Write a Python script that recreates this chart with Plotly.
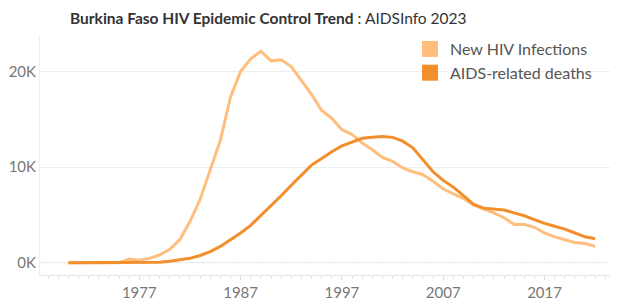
import plotly.graph_objects as go

years = list(range(1970, 2023))
new_infections = [0, 0, 0, 0, 0, 0, 380, 250, 450, 800, 1400, 2400, 4300, 6600, 9700,
                  12800, 17300, 20000, 21300, 22100, 21100, 21200, 20500, 19000, 17600,
                  15900, 15100, 13900, 13400, 12500, 11800, 11000, 10600, 9900, 9500,
                  9200, 8500, 7700, 7200, 6700, 6000, 5600, 5200, 4700, 4000,
                  4000, 3700, 3100, 2700, 2400, 2100, 2000, 1700]
aids_deaths = [0, 0, 0, 0, 0, 0, 0, 0, 0, 50, 150, 300, 450, 750, 1150,
               1700, 2400, 3100, 3900, 4900, 6000, 7000, 8100, 9200, 10200,
               10900, 11600, 12200, 12600, 13000, 13100, 13200, 13100, 12700, 12000,
               10800, 9500, 8600, 7900, 7000, 6100, 5700, 5600, 5500, 5200,
               4900, 4500, 4100, 3800, 3500, 3100, 2700, 2500]
series_names = ["New HIV Infections", "AIDS-related deaths"]
colors = ["#FFBE7D", "#F28E2B"]
y_tickvals = [0, 10000, 20000]
y_ticktext = ["0K", "10K", "20K"]
x_tickvals = [1977, 1987, 1997, 2007, 2017]

W, H = 610, 296  # page body has an 8px margin

fig = go.Figure()
for name, vals, c in zip(series_names, [new_infections, aids_deaths], colors):
    fig.add_trace(go.Scatter(x=years, y=vals, mode="lines", name=name,
                             line=dict(color=c, width=3), showlegend=False))
    fig.add_trace(go.Scatter(x=[None], y=[None], mode="markers", name=name,
                             marker=dict(symbol="square", size=16, color=c, line=dict(width=0)),
                             showlegend=True))

fig.add_shape(type="line", xref="paper", yref="y", x0=0, x1=1, y0=0, y1=0,
              line=dict(color="#c4c4c4", width=1, dash="dot"), layer="below")

fig.update_layout(
    width=W, height=H,
    margin=dict(l=32, r=0, t=27, b=29, autoexpand=False),
    paper_bgcolor="white", plot_bgcolor="white",
    font=dict(family="Lato", color="#666"),
    title=dict(text="<b>Burkina Faso HIV Epidemic Control Trend</b> : AIDSInfo 2023",
               x=62/W, xanchor="left", xref="container", y=1 - 11/H, yanchor="middle",
               yref="container",
               font=dict(size=15.5, color="#333", family="Lato")),
    legend=dict(x=402/W, y=1 - 24/H, xref="container", yref="container",
                xanchor="left", yanchor="top", bgcolor="rgba(0,0,0,0)",
                font=dict(size=16, color="#555"), tracegroupgap=0, itemwidth=30),
    xaxis=dict(range=[1967.2, 2024.25], tickvals=x_tickvals, ticktext=[str(v) for v in x_tickvals],
               showgrid=False, zeroline=False, showline=True, linecolor="#e6e6e6",
               ticks="outside", ticklen=4, tickcolor="#dcdcdc", automargin=False,
               minor=dict(dtick=1, tick0=1970, ticks="outside", ticklen=3, tickcolor="#e0e0e0"),
               tickfont=dict(size=15, color="#777")),
    yaxis=dict(range=[-1290, 23800], tickvals=y_tickvals, ticktext=y_ticktext,
               showgrid=True, gridcolor="#eeeeee", gridwidth=1, zeroline=False,
               showline=True, linecolor="#eeeeee", ticks="", automargin=False,
               tickfont=dict(size=15, color="#777")),
)

fig.write_html("out.html")
